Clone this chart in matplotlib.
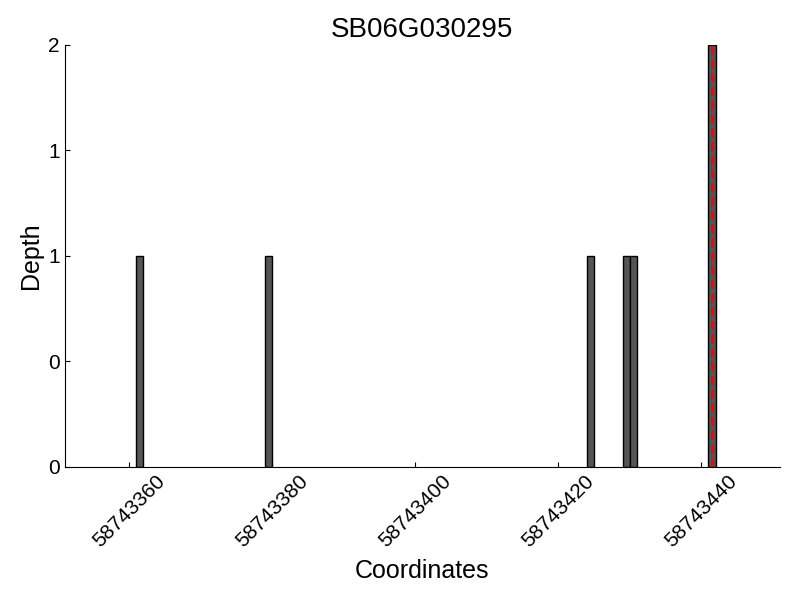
import matplotlib
matplotlib.use("Agg")
import matplotlib.pyplot as plt
from matplotlib.ticker import FormatStrFormatter

plt.rcParams['font.family'] = ['Liberation Sans', 'DejaVu Sans']

# read depth positions and counts
positions = [58743361, 58743379, 58743424, 58743429, 58743430, 58743441]
depths = [1, 1, 1, 1, 1, 2]
marker_pos = 58743441.5
gene = "SB06G030295"

fig = plt.figure(figsize=(8, 6), dpi=100)
ax = fig.add_axes([0.081, 0.222, 0.894, 0.703])

ax.bar(positions, depths, width=1, align='edge', color='#555555',
       edgecolor='black', linewidth=1)
ax.axvline(marker_pos, color='red', linestyle='--', linewidth=2.2, dashes=(3, 1.5))

ax.set_xlim(positions[0] - 10, positions[-1] + 10)
ax.set_ylim(0, max(depths))
ax.set_xticks([58743360, 58743380, 58743400, 58743420, 58743440])
ax.set_yticks([0, 0.5, 1, 1.5, 2])
ax.yaxis.set_major_formatter(FormatStrFormatter('%d'))
ax.ticklabel_format(axis='x', useOffset=False, style='plain')

for lbl in ax.get_xticklabels():
    lbl.set_rotation(45)
ax.tick_params(direction='in', labelsize=15, top=False, right=False)
ax.spines['top'].set_visible(False)
ax.spines['right'].set_visible(False)

ax.set_title(gene, fontsize=20)
ax.set_xlabel('Coordinates', fontsize=18, labelpad=6)
ax.set_ylabel('Depth', fontsize=18)

fig.savefig('out.png', dpi=100)
